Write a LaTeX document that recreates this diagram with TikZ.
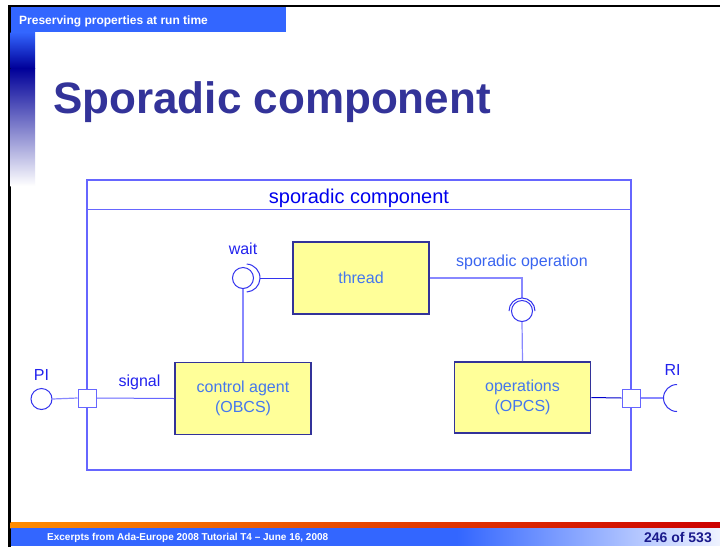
\documentclass[tikz,border=0pt]{standalone}
\usepackage{fontspec}
\setmainfont{Liberation Sans}
\definecolor{hdrblue}{HTML}{3366FF}
\definecolor{navy}{HTML}{000099}
\definecolor{titleblue}{HTML}{333399}
\definecolor{framelilac}{HTML}{6666FF}
\definecolor{boxedge}{HTML}{333399}
\definecolor{boxfill}{HTML}{FFFF99}
\definecolor{boxtext}{HTML}{4477EE}
\definecolor{labelblue}{HTML}{2222EE}
\definecolor{softblue}{HTML}{8888FF}
\definecolor{linkblue}{HTML}{3333EE}
\definecolor{pagenum}{HTML}{1A1A8C}
\begin{document}
\begin{tikzpicture}[x=1pt,y=-1pt,
  compbox/.style={draw=framelilac,line width=1.2pt},
  partbox/.style={draw=boxedge,line width=1.6pt,fill=boxfill,text=boxtext,
    align=center,font=\fontsize{16}{20.5}\selectfont,inner sep=0pt},
  iface/.style={circle,draw=linkblue,line width=1pt,minimum size=21pt,inner sep=0pt},
  socket/.style={draw=linkblue,line width=1pt},
  portbox/.style={draw=framelilac,fill=white,line width=1pt,minimum size=18pt,inner sep=0pt},
  link/.style={draw=linkblue,line width=1pt},
  softlink/.style={draw=softblue,line width=1.2pt},
  lbl/.style={font=\fontsize{16}{19}\selectfont,text=labelblue,inner sep=0pt,anchor=base}]
\useasboundingbox (0,0) rectangle (720,547);
\fill[white] (0,0) rectangle (720,547);

% slide frame and header
\draw[black,line width=2.6pt] (9.4,547) -- (9.4,6) -- (720,6);
\fill[hdrblue] (10.7,7.3) rectangle (286,32);
\shade[top color=hdrblue,bottom color=navy] (10.7,32) rectangle (35,68);
\shade[top color=navy,middle color=black!30!blue!45!white,bottom color=white] (10.7,68) rectangle (35,186);
\node[anchor=base west,inner sep=0pt,text=white,font=\fontsize{12}{14}\selectfont\bfseries]
  (header) at (19,24.3) {Preserving properties at run time};
\node[anchor=base west,inner sep=0pt,text=titleblue,font=\fontsize{44}{50}\selectfont\bfseries]
  (title) at (53,113.3) {Sporadic component};

% footer
\shade[left color=orange!90!yellow,right color=red!80!black] (10.7,522) rectangle (720,528);
\fill[hdrblue] (10.7,528) rectangle (457,545.5);
\shade[left color=hdrblue,right color=hdrblue!8!white] (457,528.5) rectangle (720,545.5);
\node[anchor=base west,inner sep=0pt,text=white,font=\fontsize{10}{12}\selectfont\bfseries]
  (excerpt) at (47,540.7) {Excerpts from Ada-Europe 2008 Tutorial T4 – June 16, 2008};
\node[anchor=base east,inner sep=0pt,text=pagenum,font=\fontsize{14}{16}\selectfont\bfseries]
  (pages) at (712,542.7) {246 of 533};

% the component and its title compartment
\node[compbox,minimum width=544pt,minimum height=290pt,inner sep=0pt] (comp) at (359,325) {};
\draw[compbox] (comp.north west) ++(0,30) coordinate (hdl) -- (hdl -| comp.east);
\node[lbl,font=\fontsize{20}{24}\selectfont,text=blue!93!black] (compname) at (359,203.3) {sporadic component};

% interface positions
\node[iface] (wait) at (243,278) {};
\node[iface] (spor) at (522,311) {};
\node[iface] (pi) at (41.5,399) {};
\node[portbox] (sqL) at (87,398) {};
\node[portbox] (sqR) at (631,398) {};
\coordinate (waitTip) at (260,278);
\coordinate (sporTop) at (522,298);
\coordinate (riTip) at (663.5,398);

% parts
\node[partbox,minimum width=136pt,minimum height=72pt] (thread) at (361,278) {thread};
\node[partbox,minimum width=136pt,minimum height=72pt] (ctrl) at (243,398.5) {control agent\\(OBCS)};
\node[partbox,minimum width=136pt,minimum height=71pt] (ops) at (522.5,397.5) {operations\\(OPCS)};

% connectors
\draw[link] (thread.west) -- (waitTip);
\draw[softlink] (wait.south) -- (ctrl.north);
\draw[softlink] (thread.east) -| (sporTop);
\draw[softlink] (spor.south) -- (ops.north);
\draw[softlink] (pi.east) -- (sqL.west);
\draw[link,draw=framelilac] (sqL.east) -- (ctrl.west);
\draw[link,draw=blue!80!black] (ops.east) -- (sqR.west);
\draw[softlink] (sqR.east) -- (riTip);

% required-interface sockets
\draw[socket] (246,278) ++(-87:14) arc[start angle=-87,end angle=87,radius=14];
\draw[socket] (522,311) ++(180:13) arc[start angle=180,end angle=360,radius=13];
\draw[socket] (677,398) ++(90:13.5) arc[start angle=90,end angle=270,radius=13.5];

% port boxes drawn over the frame
\node[portbox] at (sqL) {};
\node[portbox] at (sqR) {};

% labels
\node[lbl] (waitlbl) at (243,254) {wait};
\node[lbl,text=boxtext!85!blue] (sporlbl) at (522,266) {sporadic operation};
\node[lbl] (siglbl) at (139.5,386.7) {signal};
\node[lbl] (pilbl) at (41.5,380.7) {PI};
\node[lbl] (rilbl) at (672.5,375) {RI};
\end{tikzpicture}
\end{document}
